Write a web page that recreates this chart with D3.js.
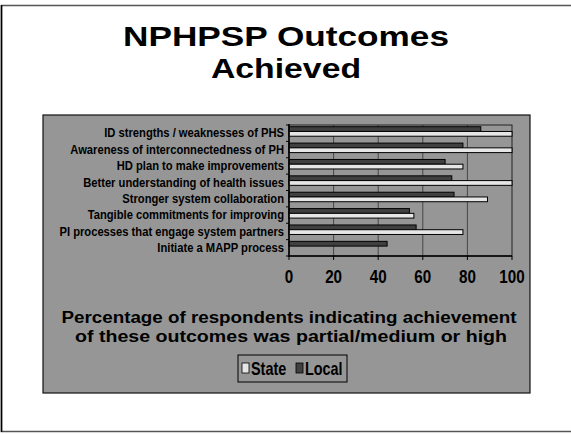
<!DOCTYPE html>
<html>
<head>
<meta charset="utf-8">
<script src="https://cdn.jsdelivr.net/npm/d3@7"></script>
<style>
  body { margin: 0; background: #fff; }
  svg { display: block; font-family: "Liberation Sans", Arial, sans-serif; font-weight: bold; }
</style>
</head>
<body>
<svg id="chart"></svg>
<script>
const width = 571;
const height = 435;

// outcomes, top to bottom
const categories = [
  "ID strengths / weaknesses of PHS",
  "Awareness of interconnectedness of PH",
  "HD plan to make improvements",
  "Better understanding of health issues",
  "Stronger system collaboration",
  "Tangible commitments for improving",
  "PI processes that engage system partners",
  "Initiate a MAPP process"
];
const seriesNames = ["Local", "State"];
const localValues = [86, 78, 70, 73, 74, 54, 57, 44];
const stateValues = [100, 100, 78, 100, 89, 56, 78, 0];
const xTicks = [0, 20, 40, 60, 80, 100];

const colors = { Local: "#404040", State: "#e6e6e6" };

const svg = d3.select("#chart")
    .attr("width", width)
    .attr("height", height);

// squeezed text helper (the slide uses a narrow face)
function narrowText(g, x, y, size, sx, anchor, txt) {
  return g.append("text")
      .attr("transform", `translate(${x},${y}) scale(${sx},1)`)
      .attr("text-anchor", anchor)
      .attr("font-size", size)
      .text(txt);
}

// slide frame
svg.append("rect")
    .attr("x", 1.5).attr("y", 5.5)
    .attr("width", width + 5).attr("height", 426)
    .attr("fill", "none").attr("stroke", "#555").attr("stroke-width", 1.5);
svg.append("line")
    .attr("x1", 1.5).attr("x2", 1.5).attr("y1", 5).attr("y2", 432)
    .attr("stroke", "#000").attr("stroke-width", 1.5);

// title
svg.append("text")
    .attr("x", 286).attr("y", 46)
    .attr("text-anchor", "middle")
    .attr("font-size", 28)
    .attr("textLength", 326).attr("lengthAdjust", "spacingAndGlyphs")
    .text("NPHPSP Outcomes");
svg.append("text")
    .attr("x", 286).attr("y", 78)
    .attr("text-anchor", "middle")
    .attr("font-size", 28)
    .attr("textLength", 150).attr("lengthAdjust", "spacingAndGlyphs")
    .text("Achieved");

// grey chart panel
svg.append("rect")
    .attr("x", 43).attr("y", 115)
    .attr("width", 487).attr("height", 278)
    .attr("fill", "#969696")
    .attr("stroke", "#111").attr("stroke-width", 1.2);

const plot = { left: 289, right: 512, top: 125, bottom: 256 };

const x = d3.scaleLinear()
    .domain([0, 100])
    .range([plot.left, plot.right]);

const y = d3.scaleBand()
    .domain(categories)
    .range([plot.top, plot.bottom])
    .paddingInner(0.42)
    .paddingOuter(0.21)
    .align(0.25);

const ySub = d3.scaleBand()
    .domain(seriesNames)
    .range([0, y.bandwidth()]);

// grid lines
svg.append("g")
  .selectAll("line")
  .data(xTicks.slice(1, -1))
  .join("line")
    .attr("x1", d => x(d)).attr("x2", d => x(d))
    .attr("y1", plot.top).attr("y2", plot.bottom)
    .attr("stroke", "#333").attr("stroke-width", 0.8);

// plot border (top/right)
svg.append("rect")
    .attr("x", plot.left).attr("y", plot.top)
    .attr("width", plot.right - plot.left).attr("height", plot.bottom - plot.top)
    .attr("fill", "none").attr("stroke", "#222").attr("stroke-width", 1);

// bars
const rows = categories.map((c, i) => ({ cat: c, Local: localValues[i], State: stateValues[i] }));
svg.append("g")
  .selectAll("g")
  .data(rows)
  .join("g")
    .attr("transform", d => `translate(0,${y(d.cat)})`)
  .selectAll("rect")
  .data(d => seriesNames.map(s => ({ s, v: d[s] })).filter(e => e.v > 0))
  .join("rect")
    .attr("x", x(0))
    .attr("y", d => ySub(d.s))
    .attr("width", d => x(d.v) - x(0))
    .attr("height", ySub.bandwidth())
    .attr("fill", d => colors[d.s])
    .attr("stroke", "#000").attr("stroke-width", 1);

// y axis
const yAxisG = svg.append("g");
yAxisG.append("line")
    .attr("x1", plot.left).attr("x2", plot.left)
    .attr("y1", plot.top - 1).attr("y2", plot.bottom + 1)
    .attr("stroke", "#000").attr("stroke-width", 1.5);
yAxisG.selectAll("line.tick")
  .data(d3.range(categories.length + 1))
  .join("line")
    .attr("class", "tick")
    .attr("x1", plot.left - 3).attr("x2", plot.left)
    .attr("y1", i => plot.top + i * y.step())
    .attr("y2", i => plot.top + i * y.step())
    .attr("stroke", "#000");
categories.forEach(c => {
  narrowText(yAxisG, plot.left - 5, y(c) + y.bandwidth() / 2 + 6, 13.5, 0.83, "end", c);
});

// x axis
const xAxisG = svg.append("g");
xAxisG.append("line")
    .attr("x1", plot.left).attr("x2", plot.right)
    .attr("y1", plot.bottom).attr("y2", plot.bottom)
    .attr("stroke", "#000").attr("stroke-width", 1.5);
xAxisG.selectAll("line.tick")
  .data(xTicks)
  .join("line")
    .attr("class", "tick")
    .attr("x1", d => x(d)).attr("x2", d => x(d))
    .attr("y1", plot.bottom).attr("y2", plot.bottom + 4)
    .attr("stroke", "#000");
xTicks.forEach(t => {
  narrowText(xAxisG, x(t), 283, 19, 0.8, "middle", t);
});

// axis caption
svg.append("text")
    .attr("x", 289).attr("y", 323)
    .attr("text-anchor", "middle")
    .attr("font-size", 16)
    .attr("textLength", 455).attr("lengthAdjust", "spacingAndGlyphs")
    .text("Percentage of respondents indicating achievement");
svg.append("text")
    .attr("x", 291).attr("y", 342)
    .attr("text-anchor", "middle")
    .attr("font-size", 16)
    .attr("textLength", 432).attr("lengthAdjust", "spacingAndGlyphs")
    .text("of these outcomes was partial/medium or high");

// legend
const legend = svg.append("g").attr("transform", "translate(238,355)");
legend.append("rect")
    .attr("width", 109).attr("height", 27)
    .attr("fill", "#969696").attr("stroke", "#000").attr("stroke-width", 1);
const legendItems = [
  { s: "State", x: 4 },
  { s: "Local", x: 58 }
];
legendItems.forEach(item => {
  legend.append("rect")
      .attr("x", item.x).attr("y", 8)
      .attr("width", 7).attr("height", 10)
      .attr("fill", colors[item.s]).attr("stroke", "#000").attr("stroke-width", 0.8);
  narrowText(legend, item.x + 9, 20, 18, 0.8, "start", item.s);
});
</script>
</body>
</html>
